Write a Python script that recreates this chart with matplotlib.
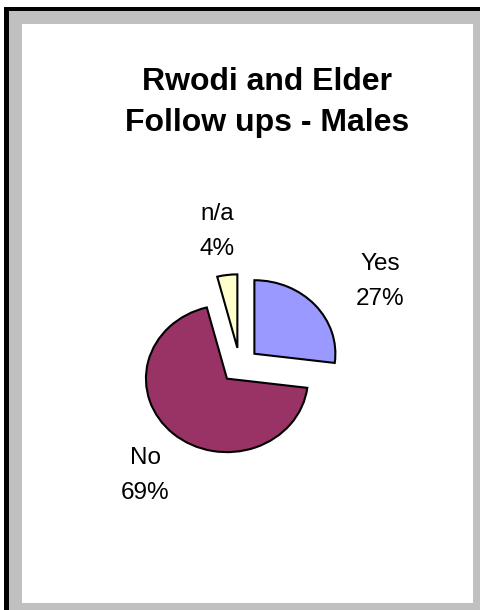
import matplotlib
matplotlib.use("Agg")
import matplotlib.pyplot as plt
from matplotlib.patches import Rectangle

labels = ["Yes", "No", "n/a"]
values = [27, 69, 4]
colors = ["#9999FF", "#993366", "#FFFFCC"]
title = "Rwodi and Elder\nFollow ups - Males"

W, H = 481, 610
plt.rcParams["font.family"] = ["Liberation Sans", "DejaVu Sans"]

fig = plt.figure(figsize=(W / 100, H / 100), dpi=100)


def px(x0, y0, x1, y1):
    # pixel box (from top-left) -> figure fraction rect
    return (x0 / W, 1 - y1 / H), (x1 - x0) / W, (y1 - y0) / H


# frame: black edge, grey band, white plot area
for box, col in [((4, 7, W, H), "black"), ((9, 10.5, W, H), "#C0C0C0"),
                 ((22, 24, 473, 603), "white")]:
    xy, w, h = px(*box)
    fig.add_artist(Rectangle(xy, w, h, transform=fig.transFigure,
                             facecolor=col, edgecolor="none", zorder=0))

# pie axes: centre at (240, 365) px, radius 81 px wide, 73.5 px tall
cx, cy, rx, ry = 239.8, 365.4, 81, 73.5
lim = 2.2
ax = fig.add_axes([(cx - rx * lim) / W, 1 - (cy + ry * lim) / H,
                   2 * rx * lim / W, 2 * ry * lim / H])
ax.pie(values, colors=colors, startangle=90, counterclock=False,
       explode=[0.24] * len(values),
       wedgeprops=dict(edgecolor="black", linewidth=1.5))
ax.set_aspect("auto")
ax.set_xlim(-lim, lim)
ax.set_ylim(-lim, lim)
ax.axis("off")

total = sum(values)
label_pos = [(1.73, 1.14), (-1.17, -1.50), (-0.28, 1.82)]
for lab, v, (lx, ly) in zip(labels, values, label_pos):
    ax.text(lx, ly, f"{lab}\n{v / total * 100:.0f}%", ha="center", va="center",
            fontsize=17.5, linespacing=1.75, color="black")

fig.text(267 / W, 1 - 102.5 / H, title, ha="center", va="center",
         fontsize=23, fontweight="bold", linespacing=1.5)

fig.savefig("out.png", dpi=100)
